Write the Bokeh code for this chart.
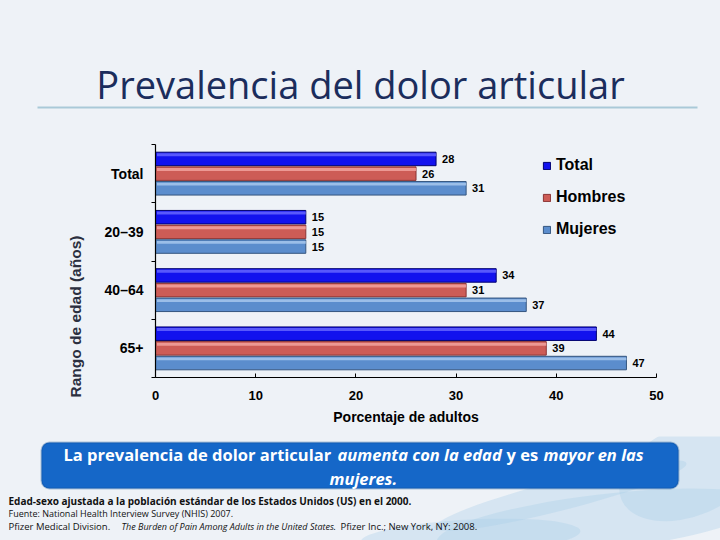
import math
from bokeh.plotting import figure
from bokeh.layouts import column, row
from bokeh.models import (ColumnDataSource, Range1d, FixedTicker, Label,
                          Legend, LegendItem, BoxAnnotation)
from bokeh.transform import dodge
from bokeh.core.properties import value
from bokeh.embed import file_html
from bokeh.resources import INLINE

# ---------------- data ----------------
categories = ["Total", "20–39", "40–64", "65+"]
series = ["Total", "Hombres", "Mujeres"]
total = [28, 15, 34, 44]
hombres = [26, 15, 31, 39]
mujeres = [31, 15, 37, 47]
x_ticks = [0, 10, 20, 30, 40, 50]

title_text = "Prevalencia del dolor articular"
x_title = "Porcentaje de adultos"
y_title = "Rango de edad (años)"

# ---------------- style / layout ----------------
BG = "#eef2f7"
W = 720
TOP_H = 136          # title band
MID_H = 300          # chart band
BOT_H = 104          # banner + footnotes
LEFT_W = 95          # y-title strip
FRAME_L, FRAME_T, FRAME_W, FRAME_H = 60, 8, 501, 233

colors = {
    "Total":   dict(fill="#1212ee", line="#00006e", hi="#6a6aff"),
    "Hombres": dict(fill="#cd5c56", line="#8a3434", hi="#f4a8a2"),
    "Mujeres": dict(fill="#5b8dcd", line="#34557f", hi="#abcaef"),
}
BAR_H = 0.232
PITCH = 0.252
HI_H = 0.05
offsets = {"Total": -PITCH, "Hombres": 0.0, "Mujeres": PITCH}


def deco(w, h, x0, y0):
    """Blank figure whose data space equals page pixels (y downward)."""
    f = figure(frame_width=w, frame_height=h, min_border=0,
               x_range=Range1d(x0, x0 + w), y_range=Range1d(y0 + h, y0),
               output_backend="svg", toolbar_location=None, tools="")
    f.axis.visible = False
    f.grid.visible = False
    f.outline_line_color = None
    f.background_fill_color = BG
    f.border_fill_color = BG
    return f


# ---------------- top band ----------------
top = deco(W, TOP_H, 0, 0)
top.add_layout(Label(x=360, y=83, text=title_text, text_align="center",
                     text_baseline="alphabetic", text_font="Open Sans",
                     text_font_size="38px", text_color="#1b2d5c"))
top.add_layout(BoxAnnotation(left=37, right=697, top=106, bottom=108,
                             fill_color="#a9c9d8", fill_alpha=1, line_color=None))

# ---------------- left strip (y title) ----------------
left = deco(LEFT_W, MID_H, 0, TOP_H)
left.add_layout(Label(x=75, y=308, text=y_title, angle=math.pi / 2,
                      text_align="center", text_baseline="middle",
                      text_font="Liberation Sans", text_font_style="bold",
                      text_font_size="15.5px", text_color="#2b2f3f"))

# ---------------- chart ----------------
ys = list(range(len(categories)))
src = ColumnDataSource(dict(
    y=ys, cat=categories,
    Total=total, Hombres=hombres, Mujeres=mujeres,
    Total_lbl=[str(v) for v in total],
    Hombres_lbl=[str(v) for v in hombres],
    Mujeres_lbl=[str(v) for v in mujeres],
))

p = figure(frame_width=FRAME_W, frame_height=FRAME_H,
           min_border_left=FRAME_L, min_border_top=FRAME_T,
           min_border_right=W - LEFT_W - FRAME_L - FRAME_W,
           min_border_bottom=MID_H - FRAME_T - FRAME_H,
           x_range=Range1d(0, 50), y_range=Range1d(len(categories) - 0.5, -0.5),
           output_backend="svg", toolbar_location=None, tools="")
p.background_fill_color = BG
p.border_fill_color = BG
p.outline_line_color = None
p.grid.visible = False

renderers = {}
for s in series:
    c = colors[s]
    r = p.hbar(y=dodge("y", offsets[s], range=p.y_range), left=0, right=s,
               height=BAR_H, source=src, fill_color=c["fill"],
               line_color=c["line"], line_width=1)
    renderers[s] = r
    p.hbar(y=dodge("y", offsets[s] - BAR_H / 2 + HI_H / 2 + 0.02, range=p.y_range),
           left=0.15, right=s, height=HI_H, source=src,
           fill_color=c["hi"], fill_alpha=0.8, line_color=None)
    p.text(x=s, y=dodge("y", offsets[s], range=p.y_range), text=s + "_lbl",
           source=src, x_offset=6, text_baseline="middle", text_align="left",
           text_font=value("Liberation Sans"), text_font_style="bold",
           text_font_size="11px", text_color="black")

xa = p.xaxis[0]
xa.ticker = FixedTicker(ticks=x_ticks)
xa.axis_line_color = "black"
xa.axis_line_width = 1.2
xa.major_tick_in = 4
xa.major_tick_out = 0
xa.minor_tick_line_color = None
xa.major_tick_line_color = "black"
xa.major_label_standoff = 13
xa.major_label_text_font = "Liberation Sans"
xa.major_label_text_font_style = "bold"
xa.major_label_text_font_size = "13px"
xa.major_label_text_color = "black"
xa.axis_label = x_title
xa.axis_label_standoff = 6
xa.axis_label_text_font = "Liberation Sans"
xa.axis_label_text_font_style = "bold"
xa.axis_label_text_font_size = "14px"
xa.axis_label_text_color = "black"

ya = p.yaxis[0]
ya.ticker = FixedTicker(ticks=ys, minor_ticks=[i - 0.5 for i in range(len(categories) + 1)])
ya.major_label_overrides = {i: c for i, c in zip(ys, categories)}
ya.axis_line_color = "black"
ya.axis_line_width = 1.2
ya.major_tick_in = 0
ya.major_tick_out = 0
ya.minor_tick_in = 0
ya.minor_tick_out = 4
ya.minor_tick_line_color = "black"
ya.major_label_standoff = 8
ya.major_label_text_font = "Liberation Sans"
ya.major_label_text_font_style = "bold"
ya.major_label_text_font_size = "14px"
ya.major_label_text_color = "black"

legend = Legend(items=[LegendItem(label=s, renderers=[renderers[s]]) for s in series],
                location=(387, 138), orientation="vertical",
                glyph_width=9, glyph_height=9, label_height=20, spacing=12,
                label_standoff=5, padding=0, margin=0,
                border_line_color=None, background_fill_alpha=0,
                label_text_font="Liberation Sans", label_text_font_style="bold",
                label_text_font_size="16px", label_text_color="black")
p.add_layout(legend)

# ---------------- bottom band ----------------
bot = deco(W, BOT_H, 0, TOP_H + MID_H)
# pale watercolor wash behind the footnotes (decorative)
bot.ellipse(x=[600, 470, 690, 560], y=[522, 536, 470, 495], width=[330, 220, 150, 260],
            height=[56, 34, 90, 30], angle=[0.12, 0.05, 0.4, 0.25],
            fill_color="#a8cde9", fill_alpha=0.35, line_color=None)
bot.add_layout(BoxAnnotation(left=41, right=678, top=442, bottom=488,
                             fill_color="#1567c8", fill_alpha=1,
                             line_color="#0c4a8e", line_width=2, border_radius=8))
reg = dict(text_font="Open Sans", text_font_size="16.5px", text_font_style="bold",
           text_color="white", text_baseline="middle", text_align="left")
ita = dict(text_font="Open Sans", text_font_size="16.5px", text_font_style="bold italic",
           text_color="white", text_baseline="middle", text_align="left")
bot.add_layout(Label(x=63, y=454, text="La prevalencia de dolor articular", **reg))
bot.add_layout(Label(x=337, y=454, text="aumenta con la edad", **ita))
bot.add_layout(Label(x=506, y=454, text="y es", **reg))
bot.add_layout(Label(x=543, y=454, text="mayor en las", **ita))
bot.add_layout(Label(x=329, y=478, text="mujeres.", **ita))

ff = dict(text_font="Open Sans", text_color="#111111", text_baseline="middle",
          text_align="left")
bot.add_layout(Label(x=8, y=500,
                     text="Edad-sexo ajustada a la población estándar de los Estados Unidos (US) en el 2000.",
                     text_font_style="bold", text_font_size="10px", **ff))
bot.add_layout(Label(x=8, y=513, text="Fuente: National Health Interview Survey (NHIS) 2007.",
                     text_font_size="9px", **ff))
bot.add_layout(Label(x=8, y=526, text="Pfizer Medical Division.", text_font_size="9.5px", **ff))
bot.add_layout(Label(x=121, y=526, text="The Burden of Pain Among Adults in the United States.",
                     text_font_style="italic", text_font_size="9px", **ff))
bot.add_layout(Label(x=340, y=526, text="Pfizer Inc.; New York, NY: 2008.",
                     text_font_size="9.5px", **ff))

layout = column(top, row(left, p, spacing=0, styles={"background-color": BG}),
                bot, spacing=0, styles={"background-color": BG})
open("out.html", "w").write(file_html(layout, INLINE))
